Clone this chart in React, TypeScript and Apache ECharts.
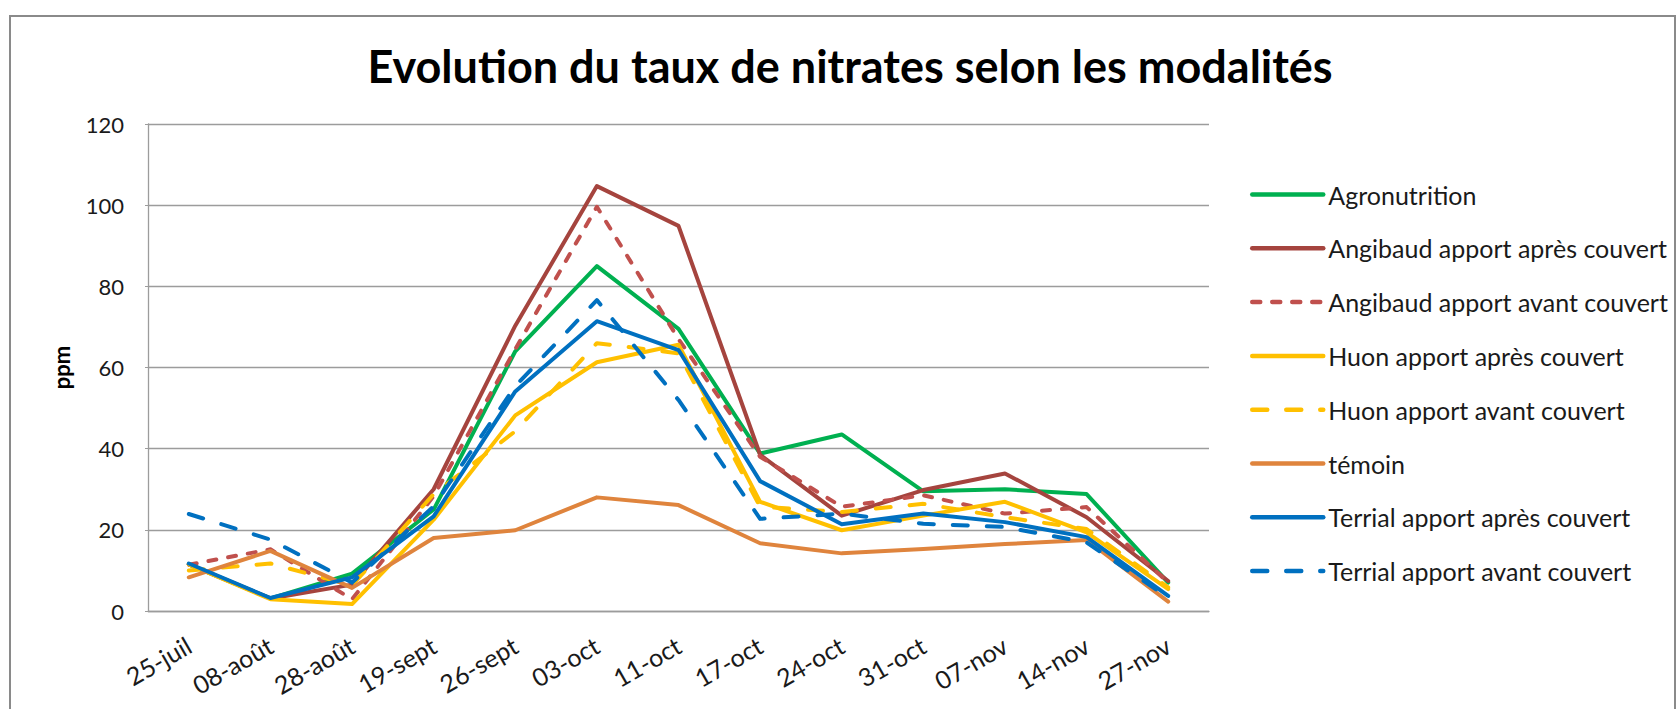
import React, { useEffect, useRef } from 'react';
import * as echarts from 'echarts';

const categories = ['25-juil', '08-août', '28-août', '19-sept', '26-sept', '03-oct', '11-oct', '17-oct', '24-oct', '31-oct', '07-nov', '14-nov', '27-nov'];
const yTicks = [0, 20, 40, 60, 80, 100, 120];

const agronutrition = [11.5, 3.1, 9.2, 25, 64, 85, 69.5, 38.8, 43.5, 29.5, 30, 28.8, 7];
const angibaudApres = [11.5, 3.1, 6.5, 30, 70.3, 104.7, 94.9, 38.5, 23.5, 29.8, 33.9, 23.1, 7.4];
const angibaudAvant = [11.4, 15.2, 2.9, 28.3, 64.5, 99.6, 67, 38, 25.7, 28.5, 24, 25.6, 7];
const huonApres = [11.5, 2.9, 1.7, 22.5, 48.2, 61.3, 65.6, 26.9, 19.9, 23.5, 26.9, 19.4, 5.4];
const huonAvant = [10, 11.7, 6.3, 28.8, 44.3, 66, 63.5, 25.7, 24.4, 26.4, 23.1, 20.2, 5.8];
const temoin = [8.3, 14.8, 5.7, 18, 19.9, 28, 26.1, 16.7, 14.2, 15.3, 16.5, 17.5, 2.3];
const terrialApres = [11.7, 3.2, 8.3, 23.3, 54.1, 71.4, 64.3, 32, 21.4, 24, 21.9, 18.2, 3.7];
const terrialAvant = [23.9, 17.6, 7, 25.8, 55.4, 76.6, 52, 22.7, 24, 21.5, 20.7, 16.9, 3.3];

const seriesNames = [
  'Agronutrition',
  'Angibaud apport après couvert',
  'Angibaud apport avant couvert',
  'Huon apport après couvert',
  'Huon apport avant couvert',
  'témoin',
  'Terrial apport après couvert',
  'Terrial apport avant couvert',
];
const seriesData = [agronutrition, angibaudApres, angibaudAvant, huonApres, huonAvant, temoin, terrialApres, terrialAvant];
const seriesColors = ['#00B050', '#A5443E', '#C0504D', '#FFC000', '#FFC000', '#DF843D', '#0070C0', '#0070C0'];
const SHORT_DASH = [8, 12];
const LONG_DASH = [15, 19];
const seriesDash: any[] = ['solid', 'solid', SHORT_DASH, 'solid', LONG_DASH, 'solid', 'solid', LONG_DASH];

const FONT = 'Lato, "Open Sans", "Noto Sans", sans-serif';
const GRID_COLOR = '#9c9c9c';

export default function App() {
  const ref = useRef<HTMLDivElement>(null);

  useEffect(() => {
    if (!ref.current) return;
    const chart = echarts.init(ref.current, null, { renderer: 'svg' });
    chart.setOption({
      animation: false,
      backgroundColor: '#ffffff',
      title: {
        text: 'Evolution du taux de nitrates selon les modalités',
        left: 845,
        top: 38,
        textAlign: 'center',
        textStyle: { fontFamily: FONT, fontSize: 45, fontWeight: 'bold', color: '#000000' },
      },
      graphic: [
        {
          type: 'rect',
          silent: true,
          z: -10,
          shape: { x: 10, y: 16, width: 1665, height: 760 },
          style: { fill: 'none', stroke: '#8a8a8a', lineWidth: 2 },
        },
      ],
      legend: {
        orient: 'vertical',
        left: 1245,
        top: 177,
        itemWidth: 71,
        itemHeight: 14,
        itemGap: 28.8,
        selectedMode: false,
        data: seriesNames,
        itemStyle: { opacity: 0 },
        lineStyle: { width: 4.5, cap: 'round' },
        textStyle: { fontFamily: FONT, fontSize: 25, color: '#1a1a1a', lineHeight: 24 },
      },
      grid: { left: 148, right: 469, top: 124, bottom: 98, containLabel: false },
      xAxis: {
        type: 'category',
        data: categories,
        boundaryGap: true,
        axisLine: { show: true, lineStyle: { color: GRID_COLOR, width: 1.3 } },
        axisTick: { show: false },
        axisLabel: {
          interval: 0,
          rotate: 30,
          margin: 32,
          verticalAlign: 'middle',
          fontFamily: FONT,
          fontSize: 25,
          color: '#1a1a1a',
        },
      },
      yAxis: {
        type: 'value',
        min: yTicks[0],
        max: yTicks[yTicks.length - 1],
        interval: 20,
        name: 'ppm',
        nameLocation: 'middle',
        nameRotate: 90,
        nameGap: 76,
        nameTextStyle: { fontFamily: FONT, fontSize: 22, fontWeight: 'bold', color: '#000000' },
        axisLine: { show: true, lineStyle: { color: GRID_COLOR, width: 1.3 } },
        axisTick: { show: true, length: 3, lineStyle: { color: GRID_COLOR } },
        splitLine: { show: true, lineStyle: { color: GRID_COLOR, width: 1.3 } },
        axisLabel: { margin: 24, fontFamily: FONT, fontSize: 22, color: '#1a1a1a' },
      },
      series: seriesNames.map((name, i) => ({
        name,
        type: 'line',
        data: seriesData[i],
        symbol: 'none',
        showSymbol: false,
        itemStyle: { color: seriesColors[i] },
        lineStyle: { color: seriesColors[i], width: 4, type: seriesDash[i], cap: 'round', join: 'round' },
      })),
    });
    return () => chart.dispose();
  }, []);

  return (
    <div
      ref={ref}
      style={{ position: 'fixed', left: 0, top: 0, width: 1678, height: 709, background: '#ffffff' }}
    />
  );
}
